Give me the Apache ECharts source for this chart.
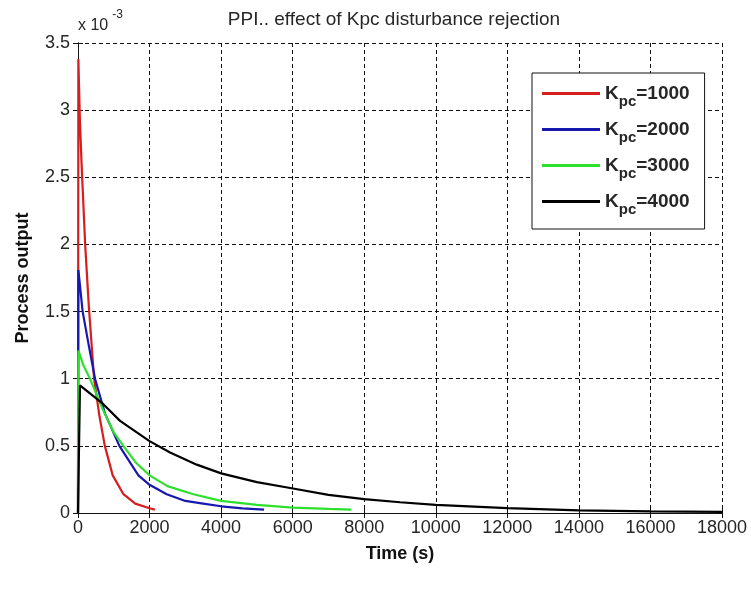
<!DOCTYPE html>
<html>
<head>
<meta charset="utf-8">
<script src="https://cdn.jsdelivr.net/npm/echarts/dist/echarts.min.js"></script>
<style>
html, body { margin: 0; background: #fff; }
#chart { width: 751px; height: 592px; }
</style>
</head>
<body>
<div id="chart"></div>
<script>
// values in units of 1e-3 (axis shows "x 10^-3")
var seriesNames = ['Kpc=1000', 'Kpc=2000', 'Kpc=3000', 'Kpc=4000'];
var xTicks = [0, 2000, 4000, 6000, 8000, 10000, 12000, 14000, 16000, 18000];
var yTicks = [0, 0.5, 1, 1.5, 2, 2.5, 3, 3.5];

var timeRed = [0, 10, 50, 100, 200, 300, 450, 600, 750, 970, 1270, 1600, 2000, 2150];
var outRed = [0, 3.38, 2.95, 2.6, 2.0, 1.55, 1.0, 0.72, 0.5, 0.28, 0.14, 0.07, 0.035, 0.025];

var timeBlue = [0, 10, 130, 300, 476, 755, 1156, 1688, 2000, 2480, 3000, 3500, 4000, 4600, 5200];
var outBlue = [0, 1.81, 1.5, 1.25, 1.0, 0.74, 0.5, 0.28, 0.21, 0.14, 0.09, 0.07, 0.05, 0.035, 0.025];

var timeGreen = [0, 10, 150, 336, 662, 1000, 1268, 1600, 2000, 2500, 3226, 4000, 5000, 6000, 7000, 7640];
var outGreen = [0, 1.21, 1.1, 1.0, 0.79, 0.6, 0.5, 0.38, 0.28, 0.2, 0.14, 0.09, 0.06, 0.04, 0.03, 0.025];

var timeBlack = [0, 50, 55, 709, 1175, 2000, 2573, 3320, 4000, 5000, 5930, 7000, 8000, 9000, 10000, 12000, 14000, 16000, 18000];
var outBlack = [0, 0, 0.95, 0.81, 0.686, 0.535, 0.45, 0.36, 0.295, 0.23, 0.186, 0.135, 0.104, 0.08, 0.06, 0.037, 0.02, 0.012, 0.008];

var colors = ['#d71e1e', '#1818b0', '#2ee02e', '#000000'];

function pairs(t, v) {
  return t.map(function (x, i) { return [x, v[i]]; });
}

var chart = echarts.init(document.getElementById('chart'));

var font = 'Liberation Sans, Arial, sans-serif';
var gridLine = { show: true, lineStyle: { color: '#111', type: [4, 3], width: 1 } };
var labelFont = { color: '#262626', fontSize: 18, fontFamily: font };
var tickStyle = { inside: true, length: 5, lineStyle: { color: '#111' } };

var allData = [pairs(timeRed, outRed), pairs(timeBlue, outBlue), pairs(timeGreen, outGreen), pairs(timeBlack, outBlack)];

var option = {
  animation: false,
  backgroundColor: '#fff',
  title: {
    text: 'PPI.. effect of Kpc disturbance rejection',
    left: 389, top: 5, textAlign: 'center',
    textStyle: { fontSize: 19, fontWeight: 'normal', color: '#262626', fontFamily: font }
  },
  grid: { left: 78, right: 29, top: 43, bottom: 79 },
  xAxis: [{
    type: 'value', min: 0, max: 18000, interval: 2000,
    name: 'Time (s)', nameLocation: 'middle', nameGap: 32,
    nameTextStyle: { fontSize: 18, fontWeight: 'bold', color: '#111', fontFamily: font },
    axisLine: { lineStyle: { color: '#111', width: 1 } },
    axisTick: tickStyle,
    axisLabel: Object.assign({ margin: 6, formatter: function (v) { return String(v); } }, labelFont),
    splitLine: gridLine
  }, {
    type: 'value', min: 0, max: 18000, interval: 2000, position: 'top',
    axisLine: { lineStyle: { color: '#111', width: 1 } },
    axisTick: tickStyle,
    axisLabel: { show: false }, splitLine: { show: false }
  }],
  yAxis: [{
    type: 'value', min: 0, max: 3.5, interval: 0.5,
    name: 'Process output', nameLocation: 'middle', nameGap: 46, nameRotate: 90,
    nameTextStyle: { fontSize: 18, fontWeight: 'bold', color: '#111', fontFamily: font },
    axisLine: { show: true, lineStyle: { color: '#111', width: 1 } },
    axisTick: Object.assign({ show: true }, tickStyle),
    axisLabel: Object.assign({ margin: 8, formatter: function (v) { return String(v); } }, labelFont),
    splitLine: gridLine
  }, {
    type: 'value', min: 0, max: 3.5, interval: 0.5, position: 'right',
    axisLine: { show: true, lineStyle: { color: '#111', width: 1 } },
    axisTick: Object.assign({ show: true }, tickStyle),
    axisLabel: { show: false }, splitLine: { show: false }
  }],
  legend: {
    left: 532, top: 73, orient: 'vertical',
    backgroundColor: '#fff', borderColor: '#111', borderWidth: 1,
    padding: [11, 15, 12, 10], itemGap: 11,
    itemWidth: 58, itemHeight: 3, icon: 'rect',
    data: seriesNames,
    formatter: function (name) {
      return '{k|K}{s|pc}{k|' + name.slice(3) + '}';
    },
    textStyle: {
      rich: {
        k: { fontSize: 19, fontWeight: 'bold', color: '#262626', fontFamily: font, height: 20, padding: [6, 0, 6, 0] },
        s: { fontSize: 15, fontWeight: 'bold', color: '#262626', fontFamily: font, height: 16, padding: [16, 0, 0, 0] }
      }
    }
  },
  graphic: [{
    type: 'text', left: 78, top: 9,
    style: {
      text: '{a|x 10}{b|-3}',
      rich: {
        a: { fontSize: 16, fill: '#262626', fontFamily: font, padding: [12, 0, 0, 0] },
        b: { fontSize: 12, fill: '#262626', fontFamily: font, padding: [0, 0, 10, 4] }
      }
    }
  }],
  series: seriesNames.map(function (n, i) {
    return {
      name: n, type: 'line', xAxisIndex: 0, yAxisIndex: 0,
      data: allData[i], showSymbol: false, symbol: 'none',
      lineStyle: { color: colors[i], width: 2.2 },
      itemStyle: { color: colors[i] },
      z: 2 + i
    };
  })
};

chart.setOption(option);
</script>
</body>
</html>
